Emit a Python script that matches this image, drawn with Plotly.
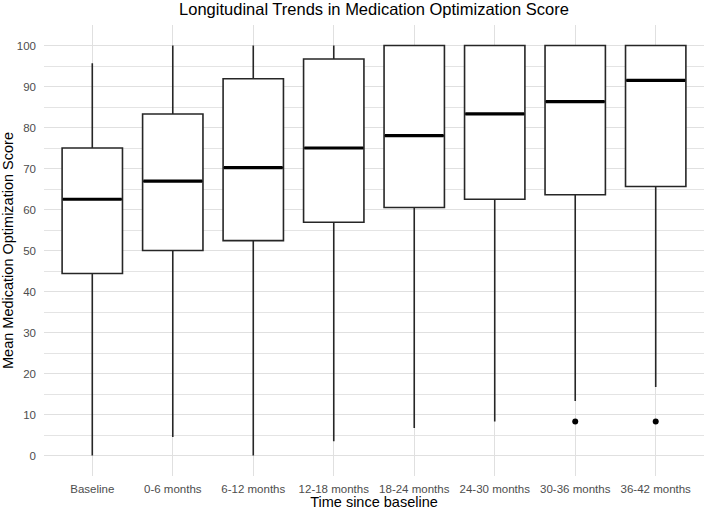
import plotly.graph_objects as go

categories = ["Baseline", "0-6 months", "6-12 months", "12-18 months",
              "18-24 months", "24-30 months", "30-36 months", "36-42 months"]
lower_whisker = [0.0, 4.5, 0.0, 3.5, 6.7, 8.3, 13.3, 16.7]
q1_values = [44.4, 50.0, 52.4, 56.9, 60.5, 62.5, 63.6, 65.6]
medians = [62.5, 66.9, 70.2, 75.0, 78.0, 83.3, 86.3, 91.5]
q3_values = [75.0, 83.3, 91.9, 96.7, 100.0, 100.0, 100.0, 100.0]
upper_whisker = [95.7, 100.0, 100.0, 100.0, 100.0, 100.0, 100.0, 100.0]
outlier_x = ["30-36 months", "36-42 months"]
outlier_y = [8.3, 8.3]

FONT = "Liberation Sans, Arial, Helvetica, sans-serif"
TICK_COLOR = "#4d4d4d"
BOX_W = 0.75

fig = go.Figure()
fig.add_trace(go.Box(
    x=categories, q1=q1_values, median=medians, q3=q3_values,
    lowerfence=lower_whisker, upperfence=upper_whisker,
    boxpoints=False, whiskerwidth=0, width=BOX_W,
    fillcolor="white", line=dict(color="#262626", width=1.6),
    showlegend=False, hoverinfo="skip"))
fig.add_trace(go.Scatter(
    x=outlier_x, y=outlier_y, mode="markers",
    marker=dict(color="black", size=6), showlegend=False, hoverinfo="skip"))

for i, m in enumerate(medians):
    fig.add_shape(type="line", xref="x", yref="y",
                  x0=i - BOX_W / 2 + 0.01, x1=i + BOX_W / 2 - 0.01, y0=m, y1=m,
                  line=dict(color="black", width=3.2), layer="above")

fig.update_layout(
    width=709, height=510,
    margin=dict(l=44, r=5, t=25, b=34),
    paper_bgcolor="white", plot_bgcolor="white",
    font=dict(family=FONT, color="#111"),
    title=dict(text="Longitudinal Trends in Medication Optimization Score",
               xref="paper", x=0.5, xanchor="center",
               yref="container", y=0.982, yanchor="middle",
               font=dict(size=16.5, color="black", family=FONT)),
)
fig.update_xaxes(
    type="category", categoryorder="array", categoryarray=categories,
    range=[-0.6, len(categories) - 0.4],
    showgrid=True, gridcolor="#e0e0e0", gridwidth=1,
    showline=False, zeroline=False, ticks="",
    tickfont=dict(size=11.5, color=TICK_COLOR, family=FONT),
    ticklabelstandoff=4, automargin=False,
    title=dict(text="Time since baseline", font=dict(size=14.5, color="black", family=FONT),
               standoff=10),
)
fig.update_yaxes(
    range=[-5, 105], tick0=0, dtick=10,
    showgrid=True, gridcolor="#e0e0e0", gridwidth=1,
    minor=dict(tick0=5, dtick=10, showgrid=True, gridcolor="#e4e4e4", gridwidth=1),
    showline=False, zeroline=False, ticks="",
    tickfont=dict(size=11.5, color=TICK_COLOR, family=FONT),
    ticklabelstandoff=7, automargin=False,
    title=dict(text="Mean Medication Optimization Score",
               font=dict(size=14.5, color="black", family=FONT), standoff=4),
)

fig.write_html("out.html")
